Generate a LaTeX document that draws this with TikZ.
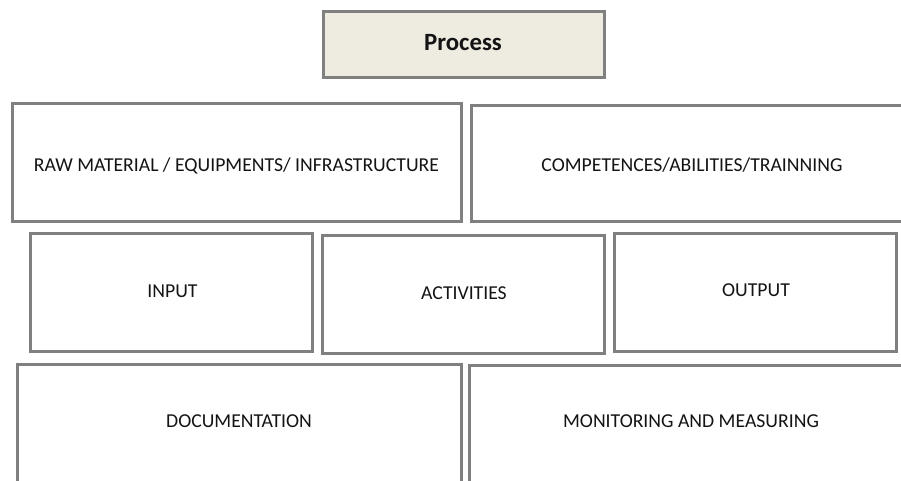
\documentclass[tikz,border=0pt]{standalone}
\usepackage{fontspec}
\setmainfont{Carlito}
\definecolor{bordergray}{RGB}{128,128,128}
\definecolor{procfill}{RGB}{238,236,225}
\definecolor{txt}{RGB}{20,20,20}
\tikzset{
  box/.style={draw=bordergray, line width=3pt, fill=white},
  lbl/.style={inner sep=0pt, text=txt, font=\fontsize{19.7}{22}\selectfont},
  title/.style={inner sep=0pt, text=txt, font=\fontsize{24.8}{28}\selectfont\bfseries},
}
\begin{document}
\begin{tikzpicture}[x=1pt,y=-1pt]
\useasboundingbox (0,0) rectangle (901,481);
\clip (0,0) rectangle (901,481);
\draw[box, fill=procfill] (323.5,11.5) rectangle (604.5,77.5);
\node[title] (process) at (463,43) {Process};
\draw[box] (12.5,103.5) rectangle (461.5,221);
\node[lbl] (raw) at (236.5,165.5) {RAW MATERIAL / EQUIPMENTS/ INFRASTRUCTURE};
\draw[box] (471.5,105.5) rectangle (915,221);
\node[lbl] (comp) at (692,165.5) {COMPETENCES/ABILITIES/TRAINNING};
\draw[box] (30.5,233.5) rectangle (312.5,351.5);
\node[lbl] (input) at (172.5,291) {INPUT};
\draw[box] (322.5,235.5) rectangle (604.5,353.5);
\node[lbl] (act) at (464,293.5) {ACTIVITIES};
\draw[box] (614.5,233.5) rectangle (896.5,351.5);
\node[lbl] (out) at (756,290) {OUTPUT};
\draw[box] (17.5,364.5) rectangle (461.5,500);
\node[lbl] (doc) at (239,421.5) {DOCUMENTATION};
\draw[box] (469.5,365.5) rectangle (920,500);
\node[lbl] (mon) at (691,421.5) {MONITORING AND MEASURING};
\end{tikzpicture}
\end{document}
